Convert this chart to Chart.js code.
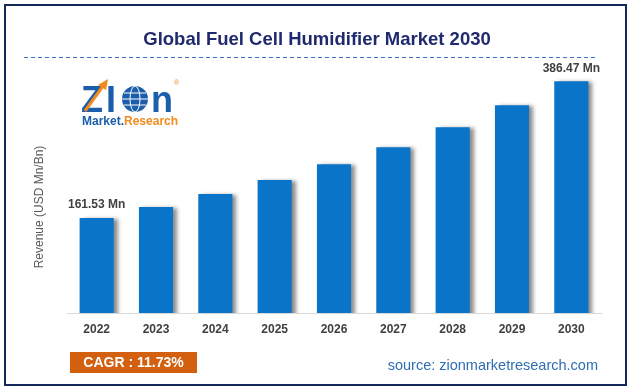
<!DOCTYPE html>
<html>
<head>
<meta charset="utf-8">
<script src="https://cdn.jsdelivr.net/npm/chart.js@4.4.1/dist/chart.umd.min.js"></script>
<style>
  html, body { margin: 0; padding: 0; background: #ffffff; }
  canvas { display: block; }
</style>
</head>
<body>
<canvas id="marketChart" width="634" height="390"></canvas>
<script>
// chart data
const years = ['2022', '2023', '2024', '2025', '2026', '2027', '2028', '2029', '2030'];
const revenue = [161.53, 179.6, 201, 224, 250, 278, 311, 347, 386.47];
const valueLabels = ['161.53 Mn', '', '', '', '', '', '', '', '386.47 Mn'];
const chartTitle = 'Global Fuel Cell Humidifier Market 2030';
const yTitle = 'Revenue (USD Mn/Bn)';
const cagrText = 'CAGR : 11.73%';
const sourceText = 'source: zionmarketresearch.com';

const FONT = '"Liberation Sans", Arial, sans-serif';
const colors = {
    bar: '#0a74c9',
    title: '#1f2a6e',
    text: '#404040',
    axisTitle: '#595959',
    border: '#14285a',
    dash: '#3f6fcc',
    cagr: '#d2600f',
    source: '#2f6db3',
    logoBlue: '#1b5eab',
    logoOrange: '#f28a1c'
};

// white background, frame, title, dashed rule, logo, footer
const decorPlugin = {
    id: 'decor',
    beforeDraw(chart) {
        const ctx = chart.ctx;
        ctx.save();
        ctx.fillStyle = '#ffffff';
        ctx.fillRect(0, 0, chart.width, chart.height);
        ctx.strokeStyle = colors.border;
        ctx.lineWidth = 2;
        ctx.strokeRect(5, 5, 621, 380);

        ctx.fillStyle = colors.title;
        ctx.font = 'bold 18.5px ' + FONT;
        ctx.textAlign = 'center';
        ctx.textBaseline = 'middle';
        ctx.fillText(chartTitle, 317, 40);

        ctx.strokeStyle = colors.dash;
        ctx.lineWidth = 1;
        ctx.setLineDash([4, 3]);
        ctx.beginPath();
        ctx.moveTo(24, 57.5);
        ctx.lineTo(596, 57.5);
        ctx.stroke();
        ctx.setLineDash([]);

        // y axis title
        ctx.save();
        ctx.translate(40, 207);
        ctx.rotate(-Math.PI / 2);
        ctx.fillStyle = colors.axisTitle;
        ctx.font = '12px ' + FONT;
        ctx.fillText(yTitle, 0, 0);
        ctx.restore();

        drawLogo(ctx);

        ctx.fillStyle = colors.cagr;
        ctx.fillRect(70, 352, 127, 21);
        ctx.fillStyle = '#ffffff';
        ctx.font = 'bold 14px ' + FONT;
        ctx.textAlign = 'center';
        ctx.fillText(cagrText, 133.5, 363);

        ctx.fillStyle = colors.source;
        ctx.font = '14.5px ' + FONT;
        ctx.textAlign = 'right';
        ctx.fillText(sourceText, 598, 366);
        ctx.restore();
    }
};

function drawLogo(ctx) {
    ctx.save();
    ctx.textAlign = 'left';
    ctx.textBaseline = 'alphabetic';
    ctx.fillStyle = colors.logoBlue;
    ctx.font = 'bold 36px ' + FONT;
    ctx.fillText('Z', 81, 112);
    ctx.fillText('I', 106, 112);
    // globe standing in for the "o"
    const gx = 135, gy = 99, r = 13;
    ctx.beginPath();
    ctx.arc(gx, gy, r, 0, Math.PI * 2);
    ctx.fill();
    ctx.strokeStyle = '#ffffff';
    ctx.lineWidth = 1;
    ctx.beginPath();
    ctx.ellipse(gx, gy, 5, r, 0, 0, Math.PI * 2);
    ctx.moveTo(gx - r, gy);
    ctx.lineTo(gx + r, gy);
    ctx.moveTo(gx - r + 2, gy - 6);
    ctx.lineTo(gx + r - 2, gy - 6);
    ctx.moveTo(gx - r + 2, gy + 6);
    ctx.lineTo(gx + r - 2, gy + 6);
    ctx.stroke();
    ctx.fillText('n', 151, 112);
    // orange arrow through the Z
    ctx.strokeStyle = colors.logoOrange;
    ctx.fillStyle = colors.logoOrange;
    ctx.lineWidth = 3;
    ctx.beginPath();
    ctx.moveTo(85, 111);
    ctx.lineTo(103, 86);
    ctx.stroke();
    ctx.beginPath();
    ctx.moveTo(108, 79);
    ctx.lineTo(98, 85);
    ctx.lineTo(106, 90);
    ctx.closePath();
    ctx.fill();
    ctx.font = '7px ' + FONT;
    ctx.fillText('®', 174, 85);
    ctx.font = 'bold 12px ' + FONT;
    ctx.fillStyle = colors.logoBlue;
    ctx.fillText('Market.', 82, 125);
    const w = ctx.measureText('Market.').width;
    ctx.fillStyle = colors.logoOrange;
    ctx.fillText('Research', 82 + w, 125);
    ctx.restore();
}

// drop shadow behind the bars
const shadowPlugin = {
    id: 'barShadow',
    beforeDatasetsDraw(chart) {
        const ctx = chart.ctx;
        ctx.save();
        ctx.shadowColor = 'rgba(0, 0, 0, 0.45)';
        ctx.shadowBlur = 4;
        ctx.shadowOffsetX = 4;
        ctx.shadowOffsetY = 1;
    },
    afterDatasetsDraw(chart) {
        chart.ctx.restore();
    }
};

// value labels on first and last bar
const labelPlugin = {
    id: 'valueLabels',
    afterDatasetsDraw(chart) {
        const ctx = chart.ctx;
        const meta = chart.getDatasetMeta(0);
        ctx.save();
        ctx.fillStyle = colors.text;
        ctx.font = 'bold 12px ' + FONT;
        ctx.textAlign = 'center';
        ctx.textBaseline = 'bottom';
        meta.data.forEach((bar, i) => {
            if (valueLabels[i]) ctx.fillText(valueLabels[i], bar.x, bar.y - 7);
        });
        ctx.restore();
    }
};

const ctx = document.getElementById('marketChart');
new Chart(ctx, {
    type: 'bar',
    data: {
        labels: years,
        datasets: [{
            data: revenue,
            backgroundColor: colors.bar,
            borderWidth: 0,
            categoryPercentage: 1,
            barPercentage: 0.575
        }]
    },
    options: {
        responsive: false,
        animation: false,
        devicePixelRatio: 1,
        layout: { padding: { left: 67, right: 33, top: 61, bottom: 0 } },
        plugins: {
            legend: { display: false },
            title: { display: false },
            tooltip: { enabled: false }
        },
        scales: {
            x: {
                grid: { display: false, drawTicks: false },
                border: { display: true, color: '#d9d9d9', width: 1 },
                ticks: {
                    color: colors.text,
                    padding: 9,
                    font: { family: FONT, size: 12, weight: 'bold' }
                },
                afterFit(scale) { scale.height = 77; }
            },
            y: {
                display: false,
                min: 5,
                max: 420
            }
        }
    },
    plugins: [decorPlugin, shadowPlugin, labelPlugin]
});
</script>
</body>
</html>
